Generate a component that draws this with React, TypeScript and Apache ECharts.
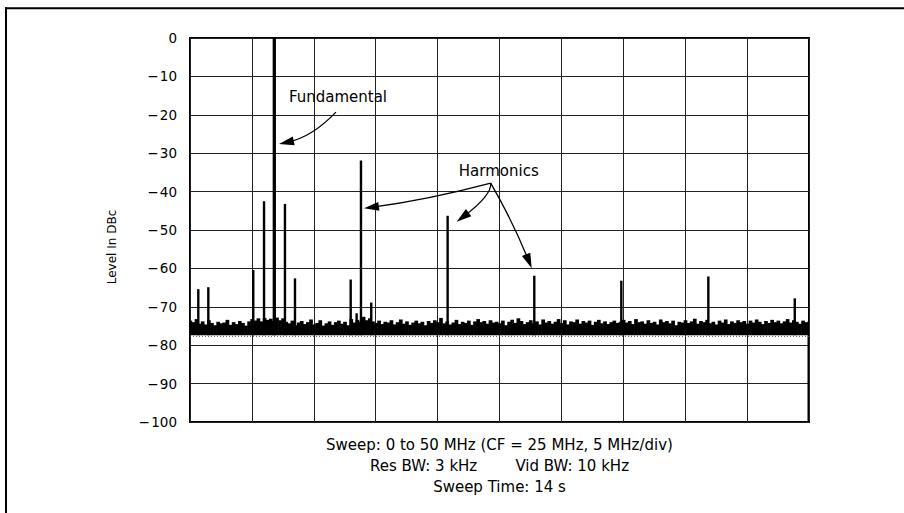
import React, { useEffect, useRef } from "react";
import * as echarts from "echarts";

// ---- data (MHz, dBc) ----
const FREQ_STEP = 0.25; // MHz between noise samples, from 0 to 50 MHz
const NOISE_TOP = [
  -73.6, -74.0, -73.2, -74.4, -73.8, -74.6, -73.5, -74.2, -74.8, -73.9, -74.3, -74.1, -73.4, -74.7, -74.0, -74.5, -73.7, -74.2, -74.9, -73.8,
  -73.2, -73.6, -73.0, -73.8, -72.9, -73.4, -73.1, -73.7, -72.8, -73.5, -73.0, -73.9, -74.3, -73.6, -74.8, -74.1, -73.7, -74.5, -74.0, -73.3,
  -74.6, -74.2, -73.5, -74.9, -74.3, -73.8, -74.7, -74.0, -73.6, -74.4, -73.9, -74.8, -73.2, -74.1, -73.4, -73.9, -72.6, -73.5, -73.0, -73.8,
  -74.2, -73.6, -74.5, -73.9, -74.1, -73.5, -74.6, -74.0, -73.3, -74.4, -73.8, -74.7, -74.1, -73.6, -74.3, -73.9, -74.8, -73.7, -74.2, -73.5,
  -74.0, -72.9, -74.3, -73.8, -74.6, -74.1, -73.4, -74.5, -73.9, -74.2, -73.6, -74.7, -73.8, -73.2, -74.0, -73.7, -74.4, -73.5, -74.1, -73.9,
  -74.3, -73.6, -74.8, -73.9, -73.4, -74.2, -73.0, -73.7, -74.5, -74.0, -73.5, -74.3, -73.8, -74.6, -73.3, -74.1, -73.7, -74.4, -73.9, -73.2,
  -74.2, -73.5, -74.6, -73.8, -74.0, -73.3, -74.4, -73.7, -74.1, -73.6, -74.7, -73.9, -73.4, -74.3, -73.8, -74.5, -74.0, -73.6, -74.2, -73.9,
  -73.4, -74.1, -73.7, -74.5, -73.2, -74.0, -73.8, -74.4, -73.5, -74.2, -73.9, -74.6, -73.3, -74.0, -73.7, -74.3, -73.6, -74.8, -73.9, -74.1,
  -73.5, -74.2, -73.8, -73.1, -74.4, -73.7, -74.0, -73.4, -74.3, -73.9, -74.6, -73.6, -74.1, -73.3, -74.5, -73.8, -74.2, -73.5, -74.0, -73.7,
  -74.4, -73.6, -74.1, -73.3, -73.9, -74.5, -73.7, -74.2, -73.4, -74.0, -73.6, -74.3, -73.8, -73.2, -74.1, -73.5, -73.9, -74.4, -73.6, -74.0, -73.8,
];
const NOISE_FLOOR = -77.4;
const DOTTED_LEVEL = -77.7;
const SPIKE_FREQ = [0.67, 1.48, 5.11, 5.98, 6.81, 7.67, 8.48, 12.98, 13.46, 13.81, 14.64, 20.81, 27.81, 34.84, 41.87, 48.85, 50];
const SPIKE_LEVEL = [-65.4, -64.9, -60.4, -42.5, 0, -43.2, -62.6, -62.9, -71.7, -31.9, -68.9, -46.3, -61.9, -63.2, -62.1, -67.8, -100];

const X_MIN = 0, X_MAX = 50, X_STEP = 5;
const Y_MIN = -100, Y_MAX = 0, Y_STEP = 10;

const FOOTER_LINES = [
  "Sweep: 0 to 50 MHz (CF = 25 MHz, 5 MHz/div)",
  "Res BW: 3 kHz        Vid BW: 10 kHz",
  "Sweep Time: 14 s",
];
const Y_NAME = "Level In DBc";

// annotation anchors, in data units (MHz, dBc)
const FUND_LABEL = { text: "Fundamental", at: [11.95, -15.4] };
const FUND_ARROW = { from: [11.79, -19.3], ctrl: [9.85, -25.8], to: [7.19, -27.6] };
const HARM_LABEL = { text: "Harmonics", at: [24.94, -34.6] };
const HARM_APEX = [24.29, -37.8];
const HARM_ARROWS = [
  { ctrl: [19.14, -42.2], to: [14.05, -44.35] },
  { ctrl: [24.39, -40.9], to: [21.54, -47.85] },
  { ctrl: [26.1, -47.9], to: [27.6, -59.97] },
];

const FONT = '"DejaVu Sans", "Liberation Sans", sans-serif';

export default function App() {
  const ref = useRef<HTMLDivElement>(null);
  useEffect(() => {
    document.body.style.margin = "0";
    const chart = echarts.init(ref.current!, undefined, { renderer: "svg" });
    const noiseData = NOISE_TOP.map((v, i) => [i * FREQ_STEP, v]);
    const spikeData = SPIKE_FREQ.map((f, i) => [f, SPIKE_LEVEL[i]]);

    const option: any = {
      animation: false,
      grid: { left: 190, top: 38, right: 95, bottom: 91, show: true, borderColor: "#000", borderWidth: 2, backgroundColor: "transparent" },
      xAxis: {
        type: "value", min: X_MIN, max: X_MAX, interval: X_STEP,
        axisLine: { show: false }, axisTick: { show: false }, axisLabel: { show: false },
        splitLine: { show: true, lineStyle: { color: "#222", width: 1 } },
      },
      yAxis: {
        type: "value", min: Y_MIN, max: Y_MAX, interval: Y_STEP,
        axisLine: { show: false }, axisTick: { show: false },
        axisLabel: {
          margin: 13, color: "#000", fontFamily: FONT, fontSize: 13.5,
          formatter: (v: number) => (v === 0 ? "0" : "\u2212\u200A" + Math.abs(v)),
        },
        splitLine: { show: true, lineStyle: { color: "#222", width: 1 } },
      },
      series: [
        {
          type: "custom", name: "noise", clip: true, data: noiseData, encode: { x: 0, y: 1 },
          renderItem: (_p: any, api: any) => {
            const f = api.value(0), top = api.value(1);
            const a = api.coord([f - FREQ_STEP / 2, top]);
            const b = api.coord([f + FREQ_STEP / 2, NOISE_FLOOR]);
            return { type: "rect", shape: { x: a[0], y: a[1], width: b[0] - a[0] + 0.6, height: b[1] - a[1] }, style: { fill: "#000" } };
          },
        },
        {
          type: "line", name: "floor", data: [[X_MIN, DOTTED_LEVEL], [X_MAX, DOTTED_LEVEL]], symbol: "none",
          lineStyle: { color: "#555", width: 1, type: [1, 2] },
        },
        {
          type: "custom", name: "spikes", clip: true, data: spikeData, encode: { x: 0, y: 1 },
          renderItem: (_p: any, api: any) => {
            const f = api.value(0), v = api.value(1);
            const p0 = api.coord([f, NOISE_FLOOR]);
            const p1 = api.coord([f, v]);
            const w = v >= -1 ? 3.3 : v <= Y_MIN ? 3 : 2.4;
            return { type: "line", shape: { x1: p0[0], y1: p0[1], x2: p1[0], y2: p1[1] }, style: { stroke: "#000", lineWidth: w } };
          },
        },
      ],
    };
    chart.setOption(option);

    const px = (p: number[]) => chart.convertToPixel({ gridIndex: 0 }, p) as number[];
    const arrow = (from: number[], ctrl: number[], to: number[]) => {
      const s = px(from), c = px(ctrl), t = px(to);
      let dx = t[0] - c[0], dy = t[1] - c[1];
      const len = Math.hypot(dx, dy) || 1;
      dx /= len; dy /= len;
      const L = 15, W = 4.5;
      const bx = t[0] - dx * L, by = t[1] - dy * L;
      const ex = t[0] - dx * L * 0.6, ey = t[1] - dy * L * 0.6;
      return [
        { type: "bezierCurve", shape: { x1: s[0], y1: s[1], cpx1: c[0], cpy1: c[1], x2: ex, y2: ey }, style: { stroke: "#000", lineWidth: 1.3, fill: null } },
        { type: "polygon", shape: { points: [[t[0], t[1]], [bx - dy * W, by + dx * W], [bx + dy * W, by - dx * W]] }, style: { fill: "#000" } },
      ];
    };
    const fl = px(FUND_LABEL.at), hl = px(HARM_LABEL.at);
    const graphic: any[] = [
      { type: "line", shape: { x1: 5, y1: 8.3, x2: 904, y2: 8.3 }, style: { stroke: "#000", lineWidth: 2 } },
      { type: "line", shape: { x1: 6, y1: 7.3, x2: 6, y2: 513 }, style: { stroke: "#000", lineWidth: 2 } },
      { type: "text", x: fl[0], y: fl[1], style: { text: FUND_LABEL.text, font: `15px ${FONT}`, fill: "#000", textAlign: "center", textVerticalAlign: "middle" } },
      { type: "text", x: hl[0], y: hl[1], style: { text: HARM_LABEL.text, font: `15px ${FONT}`, fill: "#000", textAlign: "center", textVerticalAlign: "middle" } },
      ...arrow(FUND_ARROW.from, FUND_ARROW.ctrl, FUND_ARROW.to),
      ...HARM_ARROWS.flatMap((a) => arrow(HARM_APEX, a.ctrl, a.to)),
      { type: "text", x: 112, y: 247, rotation: Math.PI / 2, style: { text: Y_NAME, font: `12px ${FONT}`, fill: "#000", textAlign: "center", textVerticalAlign: "middle" } },
      ...FOOTER_LINES.map((t, i) => ({
        type: "text", x: 499.5, y: 445 + i * 21.2,
        style: { text: t, font: `15px ${FONT}`, fill: "#000", textAlign: "center", textVerticalAlign: "middle" },
      })),
    ];
    chart.setOption({ graphic });
    return () => chart.dispose();
  }, []);
  return <div ref={ref} style={{ position: "absolute", left: 0, top: 0, width: 904, height: 513, background: "#fff" }} />;
}
